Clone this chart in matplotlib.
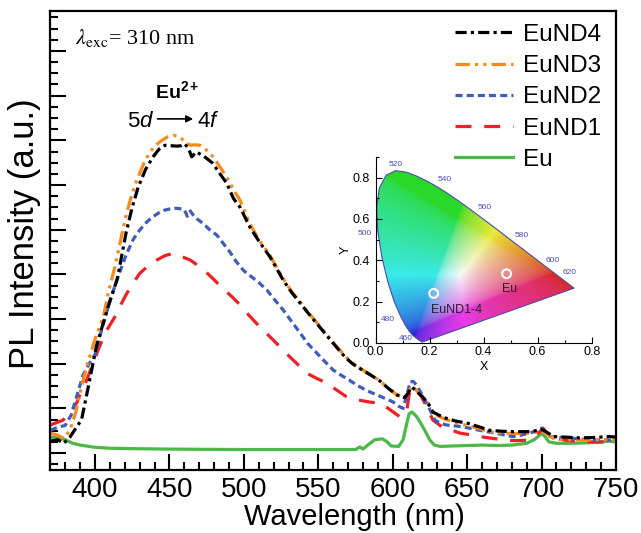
import numpy as np
import matplotlib.pyplot as plt
from matplotlib.patches import Polygon
from matplotlib.ticker import MultipleLocator, NullFormatter

plt.rcParams['font.family'] = ['Liberation Sans', 'DejaVu Sans']
plt.rcParams['mathtext.fontset'] = 'custom'
plt.rcParams['mathtext.it'] = 'Liberation Sans:italic'
plt.rcParams['mathtext.rm'] = 'Liberation Sans'
plt.rcParams['mathtext.bf'] = 'Liberation Sans:bold'

# ---- PL spectra (arbitrary units) ----
nd4_wl = [370, 375, 379, 383, 387, 391, 395, 398, 401, 405, 410, 415, 421, 425,
          429, 434, 439, 443, 447, 451, 455, 458, 460.5, 463, 465, 468, 473, 479,
          484, 488.5, 493, 497.5, 504, 510, 517.6, 526.5, 532, 538, 544, 549, 556,
          562, 568, 573, 580, 587, 592, 597, 603, 608, 610.5, 612.7, 615, 617, 620,
          624, 627, 631, 636, 642, 650, 657, 665, 673, 681, 690, 696, 700, 703,
          708, 715, 726, 735, 746, 750]
nd4 = [0.27, 0.30, 0.22, 0.35, 0.55, 0.75, 1.4, 1.9, 2.4, 2.85, 3.4, 3.9, 4.95, 5.5,
       5.95, 6.35, 6.63, 6.8, 6.89, 6.88, 6.87, 6.88, 6.92, 6.8, 6.63, 6.74, 6.65, 6.49,
       6.25, 6.04, 5.7, 5.5, 5.06, 4.75, 4.39, 3.87, 3.6, 3.35, 3.1, 2.9, 2.62,
       2.38, 2.15, 2.0, 1.85, 1.71, 1.6, 1.45, 1.3, 1.24, 1.35, 1.48, 1.42, 1.35, 1.26,
       1.1, 0.92, 0.85, 0.78, 0.72, 0.67, 0.6, 0.51, 0.49, 0.48, 0.48, 0.5, 0.53, 0.48,
       0.37, 0.36, 0.34, 0.35, 0.37, 0.36]

nd3_wl = [370, 375, 379, 383, 387, 391, 395, 400, 405.6, 409, 413.4, 420, 424, 428,
          433, 437, 441, 445, 449, 452.6, 455, 458, 461, 464, 467, 470.5, 475, 479.4,
          484, 488.5, 493, 497.4, 504, 510, 517.6, 526.5, 532, 538, 544, 549, 556,
          562, 568, 573, 580, 587, 592, 597, 603, 608, 610.5, 612.7, 615, 617, 620,
          624, 627, 631, 636, 642, 650, 657, 665, 673, 681, 690, 696, 700, 703,
          708, 715, 726, 735, 746, 750]
nd3 = [0.45, 0.40, 0.33, 0.5, 0.9, 1.5, 2.0, 2.55, 3.05, 3.6, 4.17, 5.2, 5.7, 6.1,
       6.5, 6.74, 6.9, 7.0, 7.08, 7.11, 7.1, 7.04, 6.95, 6.89, 6.9, 6.89, 6.78, 6.63,
       6.4, 6.18, 5.9, 5.66, 5.14, 4.78, 4.42, 3.9, 3.62, 3.37, 3.12, 2.92, 2.64,
       2.4, 2.17, 2.02, 1.86, 1.72, 1.6, 1.45, 1.3, 1.24, 1.36, 1.5, 1.44, 1.36, 1.26,
       1.1, 0.9, 0.82, 0.75, 0.68, 0.62, 0.56, 0.48, 0.45, 0.44, 0.44, 0.47, 0.5, 0.44,
       0.33, 0.3, 0.29, 0.3, 0.3, 0.3]

nd2_wl = [370, 375, 380, 384, 388, 392, 396, 400, 404, 408.8, 414.6, 421.3, 426, 430,
          435, 439, 443, 447, 451, 454, 457, 460, 462, 464, 467, 472.6, 477, 481.8,
          486, 490.7, 495, 500, 505, 510, 515.5, 521, 526.5, 532, 538, 543, 549, 555,
          560, 565, 571, 576, 582, 586, 591, 595, 600, 604, 607, 609.5, 611.8, 614,
          616, 619, 622.8, 626, 628.4, 632, 636, 647, 658.5, 670, 680.9, 686, 692,
          697, 700, 702, 705.5, 716.7, 737, 750]
nd2 = [0.51, 0.58, 0.62, 0.85, 1.3, 1.75, 2.0, 2.2, 2.7, 3.27, 3.87, 4.47, 4.8, 4.99,
       5.18, 5.29, 5.38, 5.44, 5.47, 5.48, 5.47, 5.45, 5.3, 5.42, 5.28, 5.14, 5.0, 4.88,
       4.7, 4.5, 4.28, 4.08, 3.95, 3.82, 3.65, 3.42, 3.2, 2.95, 2.68, 2.45, 2.24, 2.03,
       1.86, 1.75, 1.63, 1.52, 1.41, 1.35, 1.28, 1.22, 1.15, 1.05, 1.0, 1.3, 1.6, 1.6,
       1.52, 1.35, 1.12, 0.9, 0.74, 0.67, 0.63, 0.59, 0.51, 0.44, 0.37, 0.4, 0.45,
       0.5, 0.56, 0.5, 0.37, 0.34, 0.29, 0.29]

nd1_wl = [370, 374, 378.6, 383, 387.7, 391, 394.4, 398, 402, 407, 413.4, 417, 421.3,
          426, 430, 436, 441.5, 447, 452.6, 458, 464, 470, 475, 480, 486, 492, 498,
          503, 508.6, 514, 519.8, 525, 531, 537, 542.2, 549, 555.6, 562, 569, 575,
          580, 585, 591.5, 597, 602, 605, 607.5, 609.5, 611, 612.7, 616, 619, 622.8,
          627, 633, 639, 645, 652, 658.5, 667, 676.4, 683, 690, 695, 698, 701, 704,
          708, 716, 726, 738, 750]
nd1 = [0.63, 0.68, 0.74, 0.9, 1.12, 1.4, 1.63, 1.95, 2.3, 2.7, 3.05, 3.3, 3.57,
       3.82, 4.02, 4.2, 4.32, 4.42, 4.47, 4.4, 4.32, 4.18, 4.04, 3.88, 3.68, 3.5, 3.3,
       3.1, 2.9, 2.72, 2.53, 2.35, 2.15, 1.96, 1.79, 1.67, 1.57, 1.42, 1.26, 1.2,
       1.17, 1.14, 1.12, 1.0, 0.88, 0.81, 0.85, 0.96, 1.3, 1.48, 1.45, 1.28, 1.04,
       0.74, 0.59, 0.52, 0.45, 0.41, 0.37, 0.33, 0.29, 0.28, 0.29, 0.36, 0.45, 0.56, 0.42,
       0.34, 0.29, 0.25, 0.25, 0.25]

eu_wl = [370, 375, 380, 385, 390, 400, 410, 425, 450, 500, 550, 575, 578, 580, 584,
         588, 593, 596, 599, 604, 607, 609, 611, 613, 616, 619, 622, 625, 628, 632,
         640, 650, 660, 670, 680, 690, 695, 698, 700, 702, 705, 710, 720, 730, 740,
         745, 750]
eu = [0.36, 0.35, 0.3, 0.22, 0.18, 0.13, 0.11, 0.1, 0.09, 0.08, 0.08, 0.08, 0.14, 0.09, 0.2,
      0.3, 0.32, 0.26, 0.16, 0.15, 0.3, 0.6, 0.88, 0.92, 0.82, 0.66, 0.48, 0.29, 0.18, 0.15,
      0.16, 0.17, 0.18, 0.17, 0.18, 0.22, 0.3, 0.38, 0.44, 0.38, 0.25, 0.22, 0.22, 0.23, 0.25,
      0.27, 0.25]

# ---- CIE 1931 spectral locus and sample coordinates ----
locus_nm = [380, 400, 420, 430, 440, 450, 460, 465, 470, 475, 480, 485, 490, 495, 500,
            505, 510, 515, 520, 525, 530, 535, 540, 545, 550, 555, 560, 565, 570, 575,
            580, 585, 590, 595, 600, 605, 610, 615, 620, 625, 630, 640, 650, 660, 680, 700]
locus_x = [0.1741, 0.1733, 0.1714, 0.1689, 0.1644, 0.1566, 0.1440, 0.1355, 0.1241, 0.1096,
           0.0913, 0.0687, 0.0454, 0.0235, 0.0082, 0.0039, 0.0139, 0.0389, 0.0743, 0.1142,
           0.1547, 0.1929, 0.2296, 0.2658, 0.3016, 0.3373, 0.3731, 0.4087, 0.4441, 0.4788,
           0.5125, 0.5448, 0.5752, 0.6029, 0.6270, 0.6482, 0.6658, 0.6801, 0.6915, 0.7006,
           0.7079, 0.7190, 0.7260, 0.7300, 0.7334, 0.7347]
locus_y = [0.0050, 0.0048, 0.0051, 0.0069, 0.0109, 0.0177, 0.0297, 0.0399, 0.0578, 0.0868,
           0.1327, 0.2007, 0.2950, 0.4127, 0.5384, 0.6548, 0.7502, 0.8120, 0.8338, 0.8262,
           0.8059, 0.7816, 0.7543, 0.7243, 0.6923, 0.6589, 0.6245, 0.5896, 0.5547, 0.5202,
           0.4866, 0.4544, 0.4242, 0.3965, 0.3725, 0.3514, 0.3340, 0.3197, 0.3083, 0.2993,
           0.2920, 0.2809, 0.2740, 0.2700, 0.2666, 0.2653]
wl_marks = [520, 540, 560, 580, 600, 620, 500, 480, 460]
wl_mark_x = [0.075, 0.257, 0.405, 0.54, 0.655, 0.72, -0.04, 0.045, 0.11]
wl_mark_y = [0.865, 0.79, 0.657, 0.52, 0.40, 0.34, 0.53, 0.115, 0.02]
cie_names = ['EuND1-4', 'Eu']
cie_x = [0.215, 0.485]
cie_y = [0.24, 0.335]

fig = plt.figure(figsize=(6.41, 5.33), dpi=100)
ax = fig.add_axes([0.0785, 0.118, 0.8825, 0.861])

lw = 2.3
l_eu, = ax.plot(eu_wl, eu, color='#4cb848', lw=lw)
l1, = ax.plot(nd1_wl, nd1, color='#ed2024', lw=lw, dashes=(5, 4))
l2, = ax.plot(nd2_wl, nd2, color='#3f5cbd', lw=lw, dashes=(2.2, 1.3))
l3, = ax.plot(nd3_wl, nd3, color='#f68a1f', lw=lw, dashes=(4.5, 1.6, 1, 1.6, 1, 1.6))
l4, = ax.plot(nd4_wl, nd4, color='black', lw=lw, dashes=(3.5, 1.3, 1, 1.3))

ax.set_xlim(370, 750)
ax.set_ylim(-0.38, 9.89)
ax.xaxis.set_major_locator(MultipleLocator(50))
ax.xaxis.set_minor_locator(MultipleLocator(10))
ax.yaxis.set_major_locator(MultipleLocator(1))
ax.yaxis.set_minor_locator(MultipleLocator(0.25))
ax.yaxis.set_major_formatter(NullFormatter())
ax.tick_params(which='both', direction='in', width=1.5, labelsize=20, pad=5)
ax.tick_params(which='major', length=11.5)
ax.tick_params(which='minor', length=6)
for s in ax.spines.values():
    s.set_linewidth(1.6)
ax.set_xlabel('Wavelength (nm)', fontsize=21)
ax.xaxis.set_label_coords(0.538, -0.072)
ax.set_ylabel('PL Intensity (a.u.)', fontsize=25)
ax.yaxis.set_label_coords(-0.016, 0.516)

ax.legend([l4, l3, l2, l1, l_eu], ['EuND4', 'EuND3', 'EuND2', 'EuND1', 'Eu'],
          loc='upper right', bbox_to_anchor=(1.012, 1.02), frameon=False, fontsize=17.5,
          handlelength=2.4, handletextpad=0.4, labelspacing=0.38)

ax.text(386.5, 9.28, r'$\lambda_{\rm exc}$= 310 nm', fontsize=16, va='center',
        family='Liberation Serif', math_fontfamily='stix')
ax.text(455, 8.1, r'$\mathbf{Eu^{2+}}$', fontsize=14, ha='center', va='center')
ax.text(431, 7.42, r'5$d$', fontsize=16, ha='center', va='center')
ax.text(476, 7.42, r'4$f$', fontsize=16, ha='center', va='center')
ax.annotate('', xy=(466, 7.48), xytext=(442, 7.48),
            arrowprops=dict(arrowstyle='-|>', color='black', lw=1.2,
                            mutation_scale=10, shrinkA=0, shrinkB=0))

# ---- inset: CIE chromaticity diagram ----
ins = fig.add_axes([0.586, 0.3565, 0.337, 0.349])
ins.set_xlim(0, 0.8)
ins.set_ylim(0, 0.9)
ins.patch.set_alpha(0)

gx, gy = np.meshgrid(np.linspace(0.0005, 0.8, 400), np.linspace(0.0005, 0.9, 400))
XYZ = np.stack([gx / gy, np.ones_like(gx), (1 - gx - gy) / gy], axis=-1)
M = np.array([[3.2406, -1.5372, -0.4986],
              [-0.9689, 1.8758, 0.0415],
              [0.0557, -0.2040, 1.0570]])
rgb = np.clip(XYZ @ M.T, 0, None)
rgb = rgb / (rgb.max(axis=-1, keepdims=True) + 1e-9)
rgb = np.where(rgb <= 0.0031308, 12.92 * rgb, 1.055 * rgb ** (1 / 2.4) - 0.055)
# the printed diagram is softer than a straight sRGB render
lum = rgb.mean(axis=-1, keepdims=True)
rgb = lum + 0.78 * (rgb - lum)
rgb = np.clip(0.88 * rgb + 0.1, 0, 1)
img = ins.imshow(rgb, extent=[0, 0.8, 0, 0.9], origin='lower', aspect='auto',
                 interpolation='bilinear')
gamut = Polygon(np.column_stack([locus_x, locus_y]), closed=True, facecolor='none',
                edgecolor='#4b4ba8', lw=0.8, transform=ins.transData)
ins.add_patch(gamut)
img.set_clip_path(gamut)

for nm, tx, ty in zip(wl_marks, wl_mark_x, wl_mark_y):
    ins.text(tx, ty, str(nm), fontsize=6, color='#4b4bb0', ha='center', va='center')

ins.scatter(cie_x, cie_y, s=40, facecolors='none', edgecolors='white', linewidths=1.5,
            zorder=5)
ins.text(0.30, 0.16, cie_names[0], fontsize=9, ha='center', va='center', color='#222222')
ins.text(0.497, 0.26, cie_names[1], fontsize=9, ha='center', va='center', color='#222222')

ins.spines['top'].set_visible(False)
ins.spines['right'].set_visible(False)
for s in ('left', 'bottom'):
    ins.spines[s].set_linewidth(0.8)
ins.xaxis.set_major_locator(MultipleLocator(0.2))
ins.xaxis.set_minor_locator(MultipleLocator(0.1))
ins.yaxis.set_major_locator(MultipleLocator(0.2))
ins.yaxis.set_minor_locator(MultipleLocator(0.1))
ins.tick_params(which='both', direction='in', labelsize=9, width=0.8, pad=2)
ins.tick_params(axis='y', pad=4)
ins.tick_params(which='major', length=4)
ins.tick_params(which='minor', length=2)
ins.set_xlabel('X', fontsize=9, labelpad=2)
ins.set_ylabel('Y', fontsize=9, labelpad=1)

fig.savefig('out.png', dpi=100)
